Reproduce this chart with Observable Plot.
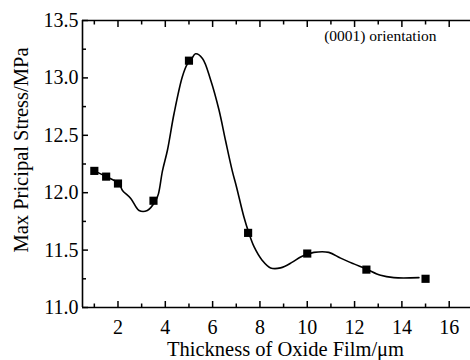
<!DOCTYPE html>
<html>
<head>
<meta charset="utf-8">
<script src="https://cdn.jsdelivr.net/npm/d3@7"></script>
<script src="https://cdn.jsdelivr.net/npm/@observablehq/plot@0.6"></script>
<style>
  html, body { margin: 0; padding: 0; background: #fff; }
  svg, svg text { font-family: "Liberation Serif", "Times New Roman", Times, Tinos, "DejaVu Serif", serif !important; }
</style>
</head>
<body>
<div id="chart"></div>
<script>
// Measured square markers
const pointX = [1, 1.5, 2, 3.5, 5, 7.5, 10, 12.5, 15];
const pointY = [12.19, 12.14, 12.08, 11.93, 13.15, 11.65, 11.47, 11.33, 11.25];

// Smooth curve
const curveX = [1, 1.5, 2.04, 2.19, 2.54, 2.89, 3.24, 3.59, 3.71, 3.88, 4.09, 4.37, 4.72, 4.93, 5.07, 5.28, 5.57, 5.92, 6.27, 6.55, 6.83, 7.01, 7.32, 7.53, 7.75, 8.1, 8.45, 8.87, 9.37, 9.72, 10.04, 10.28, 10.91, 11.41, 11.97, 12.5, 13.1, 13.66, 14.72];
const curveY = [12.19, 12.14, 12.08, 12.02, 11.95, 11.845, 11.845, 11.93, 11.99, 12.19, 12.37, 12.69, 13.01, 13.12, 13.15, 13.21, 13.17, 12.98, 12.72, 12.45, 12.19, 12.05, 11.79, 11.65, 11.53, 11.41, 11.345, 11.345, 11.395, 11.44, 11.465, 11.48, 11.48, 11.43, 11.38, 11.335, 11.28, 11.26, 11.26];

// Axis ticks
const xMajor = [2, 4, 6, 8, 10, 12, 14, 16];
const xMinor = [1, 3, 5, 7, 9, 11, 13, 15];
const yMajor = [11.0, 11.5, 12.0, 12.5, 13.0, 13.5];
const yMinor = [11.25, 11.75, 12.25, 12.75, 13.25];

const xTitle = "Thickness of Oxide Film/\u03bcm";
const yTitle = "Max Pricipal Stress/MPa";
const note = "(0001) orientation";

const points = pointX.map((x, i) => ({x, y: pointY[i]}));
const curve = curveX.map((x, i) => ({x, y: curveY[i]}));

const font = "'Liberation Serif', 'Times New Roman', Times, Tinos, 'DejaVu Serif', serif";

const chart = Plot.plot({
  width: 470,
  height: 360,
  marginLeft: 82,
  marginRight: 0,
  marginTop: 20,
  marginBottom: 53,
  style: {fontFamily: font, fontSize: "20px", background: "#fff", color: "#000"},
  x: {domain: [0.5, 16.9]},
  y: {domain: [11, 13.5]},
  marks: [
    // frame lines (left, bottom, top)
    Plot.ruleX([0.5], {stroke: "#000", strokeWidth: 1.6}),
    Plot.ruleY([11, 13.5], {stroke: "#000", strokeWidth: 1.6}),
    // tick labels
    Plot.axisX(xMajor, {anchor: "bottom", tickSize: 0, tickPadding: 12, fontSize: 20, label: null}),
    Plot.axisY(yMajor, {anchor: "left", tickSize: 0, tickPadding: 4, fontSize: 20, tickFormat: d3.format(".1f"), label: null}),
    // inward ticks
    Plot.axisX(xMajor, {anchor: "bottom", tickSize: -6, fill: "none", strokeWidth: 1.5, label: null}),
    Plot.axisX(xMinor, {anchor: "bottom", tickSize: -3.5, fill: "none", strokeWidth: 1.5, label: null}),
    Plot.axisX(xMajor, {anchor: "top", tickSize: -6, fill: "none", strokeWidth: 1.5, label: null}),
    Plot.axisX(xMinor, {anchor: "top", tickSize: -3.5, fill: "none", strokeWidth: 1.5, label: null}),
    Plot.axisY(yMajor, {anchor: "left", tickSize: -6, fill: "none", strokeWidth: 1.5, label: null}),
    Plot.axisY(yMinor, {anchor: "left", tickSize: -4, fill: "none", strokeWidth: 1.5, label: null}),
    // curve and markers
    Plot.line(curve, {x: "x", y: "y", curve: "catmull-rom", stroke: "#000", strokeWidth: 1.6}),
    Plot.dot(points, {x: "x", y: "y", symbol: "square", r: 4.6, fill: "#000", stroke: "none"}),
    // texts
    Plot.text([note], {text: d => d, frameAnchor: "top-right", textAnchor: "end", lineAnchor: "middle", dx: -34, dy: 16, fontSize: 15.5, fill: "#000"}),
    Plot.text([xTitle], {text: d => d, frameAnchor: "bottom", textAnchor: "middle", lineAnchor: "middle", dx: 9, dy: 42, fontSize: 20.5, fill: "#000"}),
    Plot.text([yTitle], {text: d => d, frameAnchor: "left", textAnchor: "middle", lineAnchor: "middle", rotate: -90, dx: -61, dy: -14, fontSize: 20.5, fill: "#000"})
  ]
});

document.getElementById("chart").appendChild(chart);
</script>
</body>
</html>
